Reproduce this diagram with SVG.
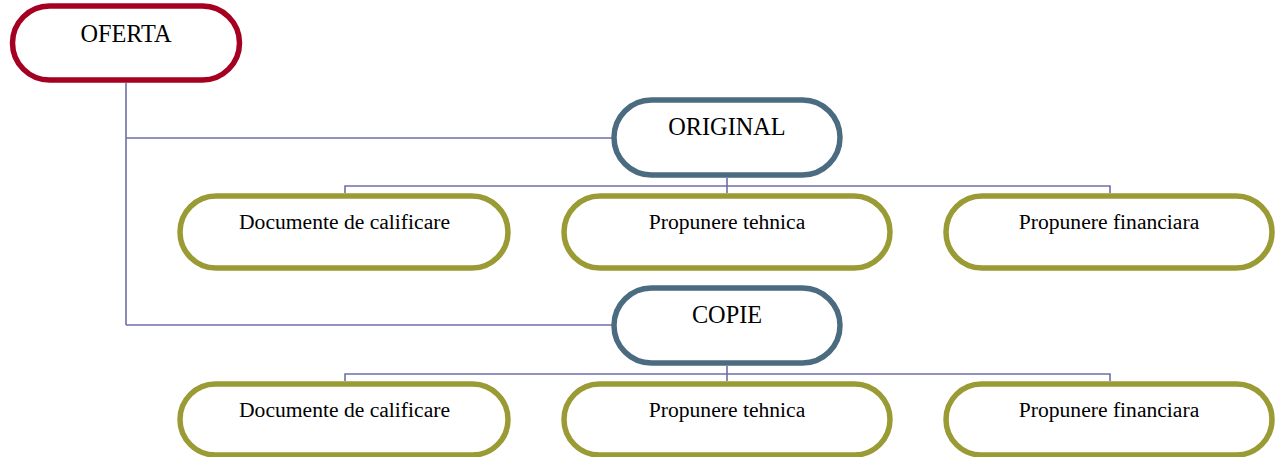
<svg xmlns="http://www.w3.org/2000/svg" width="1276" height="457" viewBox="0 0 1276 457">
<style>
.n{fill:#fff;stroke-width:5.5}
.root{stroke:#A50021}
.mid{stroke:#4B6B80}
.leaf{stroke:#9B9B35}
.t{font-family:"Liberation Serif","Times New Roman",serif;fill:#000;text-anchor:middle}
.big{font-size:24.3px}
.sm{font-size:21.6px}
.c{fill:none;stroke:#6F6FA6;stroke-width:1.6}
</style>
<rect width="1276" height="457" fill="#fff"/>
<g id="connectors">
<path class="c" d="M126 83V325M126 138H612M126 325H612"/>
<path class="c" d="M727 178V186M345 193V186H1110V193M727 186V193"/>
<path class="c" d="M727 366V374M345 381V374H1110V381M727 374V381"/>
</g>
<g id="oferta"><rect class="n root" x="12.5" y="6" width="227" height="74" rx="37"/><text class="t big" x="126" y="41.5">OFERTA</text></g>
<g id="original"><rect class="n mid" x="614" y="100" width="226" height="75" rx="37.5"/><text class="t big" x="727" y="135">ORIGINAL</text></g>
<g id="orig-doc"><rect class="n leaf" x="180" y="196" width="328" height="72" rx="36"/><text class="t sm" x="344.5" y="229">Documente de calificare</text></g>
<g id="orig-teh"><rect class="n leaf" x="564" y="196" width="326" height="72" rx="36"/><text class="t sm" x="727" y="229">Propunere tehnica</text></g>
<g id="orig-fin"><rect class="n leaf" x="946" y="196" width="326" height="72" rx="36"/><text class="t sm" x="1109" y="229">Propunere financiara</text></g>
<g id="copie"><rect class="n mid" x="614" y="288" width="226" height="75" rx="37.5"/><text class="t big" x="727" y="323">COPIE</text></g>
<g id="copie-doc"><rect class="n leaf" x="180" y="384" width="328" height="71" rx="35.5"/><text class="t sm" x="344.5" y="417">Documente de calificare</text></g>
<g id="copie-teh"><rect class="n leaf" x="564" y="384" width="326" height="71" rx="35.5"/><text class="t sm" x="727" y="417">Propunere tehnica</text></g>
<g id="copie-fin"><rect class="n leaf" x="946" y="384" width="326" height="71" rx="35.5"/><text class="t sm" x="1109" y="417">Propunere financiara</text></g>
</svg>
